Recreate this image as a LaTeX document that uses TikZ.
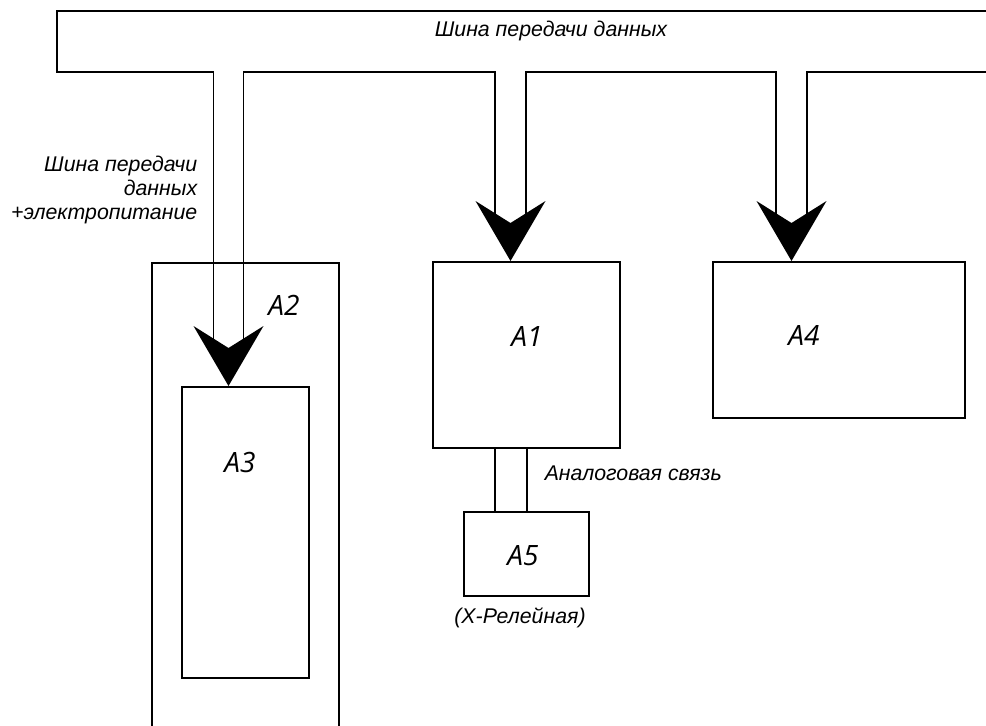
\documentclass[tikz,border=0pt]{standalone}
\usepackage{fontspec}
\newfontfamily\arl{Liberation Sans}
\newfontfamily\osans{Open Sans}
\usetikzlibrary{calc}
\begin{document}
\begin{tikzpicture}[x=1pt,y=-1pt,line width=1.5pt,
  blk/.style={draw,rectangle,inner sep=0pt,anchor=north west},
  lbl/.style={font=\osans\itshape\fontsize{28}{30}\selectfont,inner sep=0pt},
  txt/.style={font=\arl\itshape\fontsize{21.3}{24}\selectfont,inner sep=0pt}]
\useasboundingbox (0,0) rectangle (986,726);
\clip (0,0) rectangle (986,726);
% boxes
\node[blk,minimum width=187pt,minimum height=480pt] (A2) at (151,262) {};
\node[blk,minimum width=127pt,minimum height=291pt,fill=white] (A3) at (181,386) {};
\node[blk,minimum width=187pt,minimum height=186pt] (A1) at (432,261) {};
\node[blk,minimum width=252pt,minimum height=156pt] (A4) at (712,261) {};
\node[blk,minimum width=125pt,minimum height=84pt] (A5) at (463,511) {};
% labels
\node[lbl] (lA2) at (284,305) {A2};
\node[lbl] (lA3) at (240,462) {A3};
\node[lbl] (lA1) at (527,337) {A1};
\node[lbl] (lA4) at (804,335) {A4};
\node[lbl] (lA5) at (523,556) {A5};
% bus corners and arrow tips
\coordinate (bTR) at (986,11);
\coordinate (bTL) at (57,11);
\coordinate (bBL) at (57,72);
\coordinate (bBR) at (986,72);
\coordinate (t3) at (228.5,386);
\coordinate (t1) at (510.5,261);
\coordinate (t4) at (791.5,261);
% bus
\draw (bTR) -- (bTL) -- (bBL) -| ($(t3)+(-15,-40)$);
\draw ($(t3)+(15,-40)$) |- ($(bBL)!(t1)!(bBR)+(-15.5,0)$) -- ($(t1)+(-15.5,-40)$);
\draw ($(t1)+(15.5,-40)$) |- ($(bBL)!(t4)!(bBR)+(-15.5,0)$) -- ($(t4)+(-15.5,-40)$);
\draw ($(t4)+(15.5,-40)$) |- (bBR);
% analog link
\draw ($(A1.south)+(-31.5,0)$) -- ($(A5.north)+(-31.5,0)$);
\draw ($(A1.south)+(0.5,0)$) -- ($(A5.north)+(0.5,0)$);
% arrowheads
\foreach \t in {t3,t1,t4}
  \fill (\t) -- ++(-35,-60) -- ++(35,22) -- ++(35,-22) -- cycle;
% texts
\node[txt] (tbus) at (551,31) {Шина передачи данных};
\node[txt,align=right,anchor=east] (tpow) at (198,190) {Шина передачи\\данных\\+электропитание};
\node[txt,anchor=west] (tan) at (544,473) {Аналоговая связь};
\node[txt] (trel) at (520,618) {(X-Релейная)};
\end{tikzpicture}
\end{document}
